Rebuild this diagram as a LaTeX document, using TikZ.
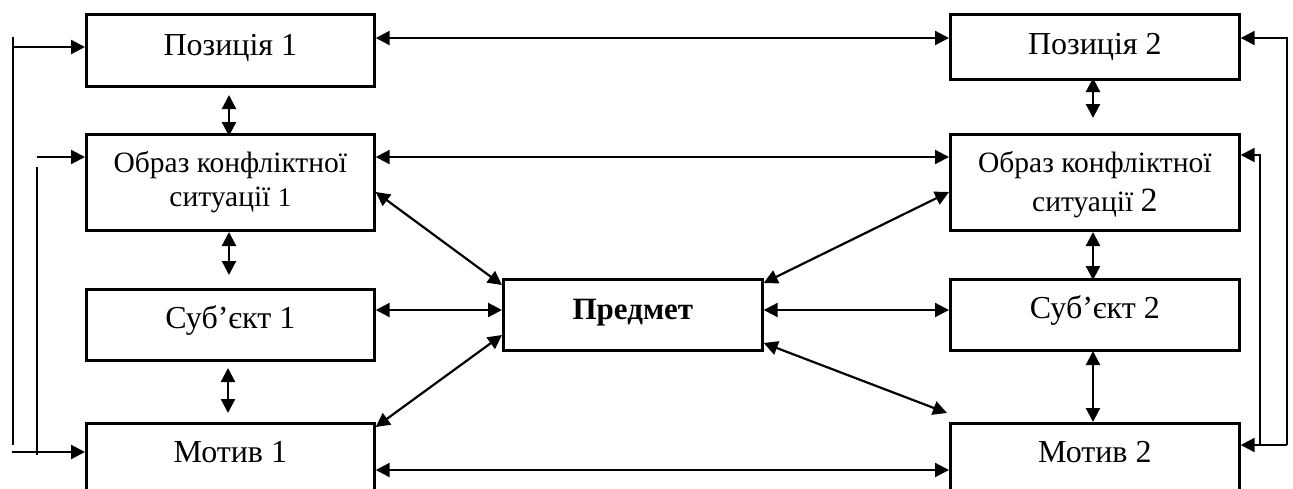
\documentclass[tikz,border=0pt]{standalone}
\usepackage{fontspec}
\setmainfont{Liberation Serif}
\usetikzlibrary{arrows.meta,calc}
\begin{document}
\begin{tikzpicture}[x=1pt,y=-1pt,
  box/.style={draw,line width=2.7pt,anchor=north west,inner sep=0pt},
  lbl/.style={anchor=base,inner sep=0pt,font=\fontsize{32}{34}\selectfont},
  lblsm/.style={anchor=base,inner sep=0pt,font=\fontsize{29.5}{34}\selectfont},
  tip/.tip={Triangle[length=14pt,width=14pt]},
  link/.style={line width=2.2pt,tip-tip},
  feed/.style={line width=2.2pt,-tip},
  wire/.style={line width=2.2pt}]
\useasboundingbox (0,0) rectangle (1293,488);
\clip (0,0) rectangle (1293,488);

% left column
\node[box,minimum width=288,minimum height=72] (p1) at (85,13) {};
\node[box,minimum width=288,minimum height=96] (o1) at (85,133) {};
\node[box,minimum width=288,minimum height=71] (s1) at (85,288) {};
\node[box,minimum width=288,minimum height=90] (m1) at (85,422) {};
% right column
\node[box,minimum width=289,minimum height=65] (p2) at (949,13) {};
\node[box,minimum width=289,minimum height=96] (o2) at (949,133) {};
\node[box,minimum width=289,minimum height=71] (s2) at (949,278) {};
\node[box,minimum width=289,minimum height=90] (m2) at (949,422) {};
% centre
\node[box,minimum width=259,minimum height=71] (pr) at (502,278) {};

% labels
\node[lbl] (tp1) at ($(p1.north)+(0,42)$) {Позиція 1};
\node[lblsm] (to1a) at ($(o1.north)+(0,39)$) {Образ конфліктної};
\node[lblsm] (to1b) at ($(o1.north)+(0,73)$) {ситуації {\fontsize{27}{30}\selectfont 1}};
\node[lbl] (ts1) at ($(s1.north)+(0,40)$) {Суб’єкт 1};
\node[lbl] (tm1) at ($(m1.north)+(0,40)$) {Мотив 1};
\node[lbl] (tp2) at ($(p2.north)+(0,41)$) {Позиція 2};
\node[lblsm] (to2a) at ($(o2.north)+(0,39)$) {Образ конфліктної};
\node[lblsm] (to2b) at ($(o2.north)+(0,78)$) {ситуації {\fontsize{34}{36}\selectfont 2}};
\node[lbl] (ts2) at ($(s2.north)+(0,40)$) {Суб’єкт 2};
\node[lbl] (tm2) at ($(m2.north)+(0,40)$) {Мотив 2};
\node[anchor=base,inner sep=0pt,font=\fontsize{31}{34}\selectfont\bfseries] (tpr) at ($(pr.north)+(0,41)$) {Предмет};

% horizontal links
\draw[link] (p1.east |- 0,38) -- (p2.west |- 0,38);
\draw[link] (o1.east |- 0,157) -- (o2.west |- 0,157);
\draw[link] (s1.east |- 0,310) -- (pr.west |- 0,310);
\draw[link] (pr.east |- 0,310) -- (s2.west |- 0,310);
\draw[link] (m1.east |- 0,470) -- (m2.west |- 0,470);

% diagonal links to the centre
\draw[link] (o1.east |- 0,192) -- (pr.west |- 0,285);
\draw[link] (m1.east |- 0,427) -- (pr.west |- 0,335);
\draw[link] (o2.west |- 0,192) -- (pr.east |- 0,283);
\draw[link] (pr.east |- 0,343) -- (947,413);

% vertical links
\draw[link] (229,95) -- (229,136);
\draw[link] (229,232) -- (229,275);
\draw[link] (228,368) -- (228,413);
\draw[link] (1093,78) -- (1093,118);
\draw[link] (1093,232) -- (1093,280);
\draw[link] (1093,351) -- (1093,422);

% left feedback lines
\coordinate (lo1) at (13,37);
\coordinate (lo2) at (13,445);
\draw[wire] (lo1) -- (lo2);
\draw[feed] (13,47) -- (p1.west |- 0,47);
\draw[feed] (12,452) -- (m1.west |- 0,452);
\coordinate (li1) at (37,167);
\coordinate (li2) at (37,455);
\draw[wire] (li1) -- (li2);
\draw[feed] (37,157) -- (o1.west |- 0,157);

% right feedback lines
\coordinate (ro) at (1287,445);
\coordinate (ri) at (1260,445);
\draw[feed] (ro) -- (1287,38) -- (p2.east |- 0,38);
\draw[feed] (ri) -- (1260,155) -- (o2.east |- 0,155);
\draw[feed] (ro) -- (m2.east |- ro);
\end{tikzpicture}
\end{document}
